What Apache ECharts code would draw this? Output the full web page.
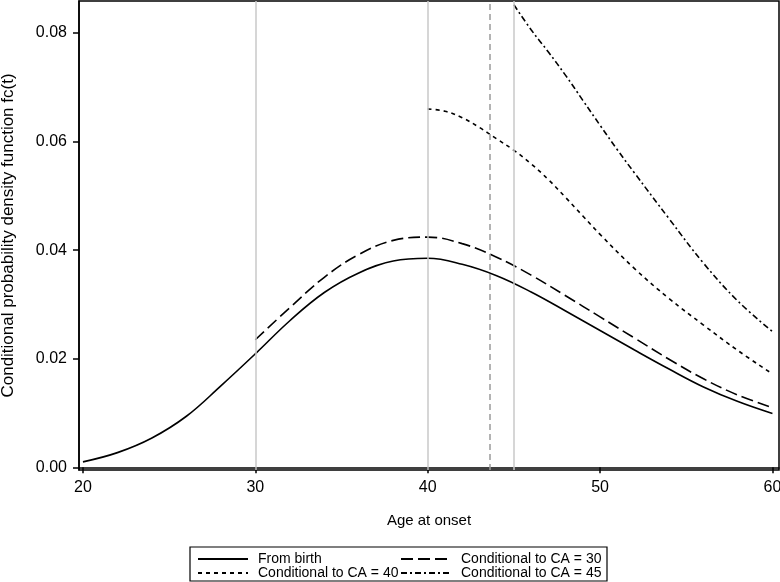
<!DOCTYPE html>
<html lang="en">
<head>
    <meta charset="UTF-8">
    <title>Conditional density</title>
    <script src="https://cdn.jsdelivr.net/npm/echarts@6/dist/echarts.min.js"></script>
    <style>
        html, body { margin: 0; padding: 0; background: #fff; }
        #container { width: 780px; height: 582px; }
    </style>
</head>
<body>
    <div id="container"></div>
    <script type="text/javascript">
        // values
        var ageBirth = [20, 22, 24, 26, 28, 30, 32, 34, 36, 38, 40, 42, 44, 46, 48, 50, 52, 54, 56, 58, 60];
        var fromBirth = [0.0010, 0.0027, 0.0054, 0.0094, 0.0150, 0.0209, 0.0270, 0.0322, 0.0358, 0.0380, 0.0385,
            0.0374, 0.0353, 0.0323, 0.0288, 0.0252, 0.0216, 0.0181, 0.0148, 0.0121, 0.0099];

        var ageCA30 = [30, 32, 34, 36, 38, 40, 42, 44, 46, 48, 50, 52, 54, 56, 58, 60];
        var ca30 = [0.0235, 0.0294, 0.0350, 0.0392, 0.0418, 0.0424, 0.0412, 0.0387, 0.0354, 0.0316, 0.0277,
            0.0238, 0.0199, 0.0163, 0.0133, 0.0110];

        var ageCA40 = [40, 41, 42, 43, 44, 45, 46, 47, 48, 49, 50, 52, 54, 56, 58, 60];
        var ca40 = [0.0660, 0.0656, 0.0644, 0.0626, 0.0605, 0.0584, 0.0559, 0.0530, 0.0497, 0.0463, 0.0429,
            0.0366, 0.0311, 0.0262, 0.0215, 0.0172];

        var ageCA45 = [45, 46, 47, 48, 49, 50, 51, 52, 54, 56, 58, 60];
        var ca45 = [0.0852, 0.0806, 0.0765, 0.0722, 0.0676, 0.0630, 0.0585, 0.0542, 0.0458, 0.0376, 0.0306, 0.0250];

        var xTicks = [20, 30, 40, 50, 60];
        var yTicks = [0, 0.02, 0.04, 0.06, 0.08];
        var refLines = [30, 40, 45];
        var refDashed = 43.6;

        var names = ['From birth', 'Conditional to CA = 30', 'Conditional to CA = 40', 'Conditional to CA = 45'];

        function pairs(xs, ys) {
            return xs.map(function (x, i) { return [x, ys[i]]; });
        }

        var font = 'Liberation Sans, Arial, sans-serif';
        var dom = document.getElementById('container');
        var myChart = echarts.init(dom, null, { renderer: 'canvas' });

        var option = {
            animation: false,
            backgroundColor: '#fff',
            textStyle: { fontFamily: font, color: '#000' },
            grid: {
                left: 79, right: 1, top: 1, bottom: 112,
                containLabel: false,
                outerBoundsMode: 'none',
                show: true, borderColor: '#000', borderWidth: 1.5
            },
            legend: {
                data: names,
                left: 190,
                top: 547,
                width: 430,
                orient: 'horizontal',
                itemWidth: 50,
                itemHeight: 10,
                itemGap: 0,
                padding: [5, 4, 1, 7],
                borderColor: '#000',
                borderWidth: 1.2,
                itemStyle: { opacity: 0 },
                textStyle: {
                    fontFamily: font, fontSize: 14, color: '#000',
                    width: 142, lineHeight: 10, padding: [0, 0, 0, 5]
                }
            },
            xAxis: {
                type: 'value',
                min: 19.77,
                max: 60.38,
                name: 'Age at onset',
                nameLocation: 'middle',
                nameGap: 43,
                nameTextStyle: { fontFamily: font, fontSize: 15, color: '#000' },
                splitLine: { show: false },
                axisLine: { lineStyle: { color: '#000', width: 1.5 } },
                axisTick: { inside: false, length: 6, customValues: xTicks, lineStyle: { color: '#000', width: 1.5 } },
                axisLabel: { customValues: xTicks, fontFamily: font, fontSize: 16, color: '#000', margin: 10 }
            },
            yAxis: {
                type: 'value',
                min: -0.0005,
                max: 0.0859,
                name: 'Conditional probability density function fc(t)',
                nameLocation: 'middle',
                nameGap: 62,
                nameTextStyle: { fontFamily: font, fontSize: 17, color: '#000' },
                splitLine: { show: false },
                axisLine: { lineStyle: { color: '#000', width: 1.5 } },
                axisTick: { inside: false, length: 6, customValues: yTicks, lineStyle: { color: '#000', width: 1.5 } },
                axisLabel: {
                    customValues: yTicks, fontFamily: font, fontSize: 16, color: '#000', margin: 12,
                    formatter: function (v) { return v.toFixed(2); }
                }
            },
            series: [
                {
                    name: names[0],
                    type: 'line',
                    showSymbol: false,
                    symbol: 'none',
                    smooth: 0.4,
                    data: pairs(ageBirth, fromBirth),
                    lineStyle: { color: '#000', width: 1.6, type: 'solid' },
                    itemStyle: { color: '#000' },
                    markLine: {
                        silent: true,
                        symbol: 'none',
                        label: { show: false },
                        data: refLines.map(function (v) {
                            return { xAxis: v, lineStyle: { color: '#c8c8c8', width: 1.5, type: 'solid' } };
                        }).concat([{ xAxis: refDashed, lineStyle: { color: '#9a9a9a', width: 1.5, type: [6, 4] } }])
                    },
                    z: 3
                },
                {
                    name: names[1],
                    type: 'line',
                    symbol: 'none',
                    smooth: 0.4,
                    data: pairs(ageCA30, ca30),
                    lineStyle: { color: '#000', width: 1.6, type: [12, 5] },
                    itemStyle: { color: '#000' },
                    z: 3
                },
                {
                    name: names[2],
                    type: 'line',
                    symbol: 'none',
                    smooth: 0.4,
                    data: pairs(ageCA40, ca40),
                    lineStyle: { color: '#000', width: 1.6, type: [4, 4] },
                    itemStyle: { color: '#000' },
                    z: 3
                },
                {
                    name: names[3],
                    type: 'line',
                    symbol: 'none',
                    smooth: 0.4,
                    data: pairs(ageCA45, ca45),
                    lineStyle: { color: '#000', width: 1.6, type: [6, 3, 2, 3] },
                    itemStyle: { color: '#000' },
                    z: 3
                }
            ]
        };

        myChart.setOption(option);
        window.addEventListener('resize', myChart.resize);
    </script>
</body>
</html>
